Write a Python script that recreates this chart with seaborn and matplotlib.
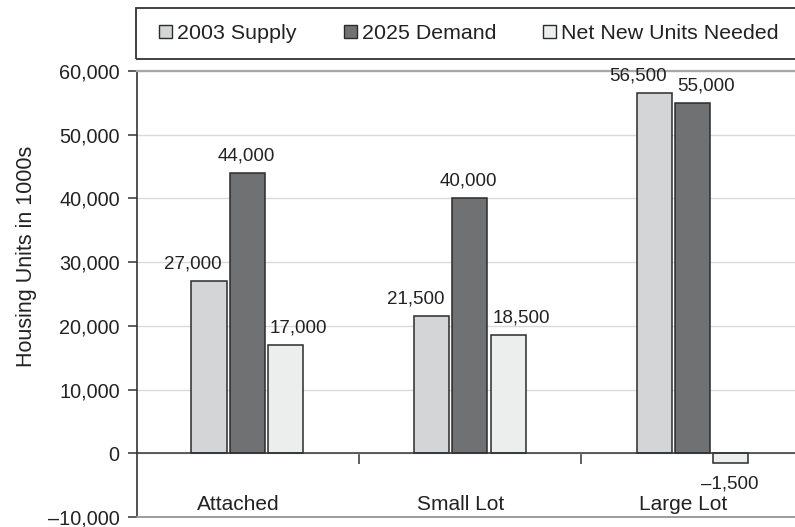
import matplotlib
matplotlib.use("Agg")
import matplotlib.pyplot as plt
from matplotlib.patches import Patch, Rectangle
from matplotlib.ticker import FuncFormatter
import seaborn as sns
import pandas as pd

# Housing units (thousands) by lot type
categories = ["Attached", "Small Lot", "Large Lot"]
series = ["2003 Supply", "2025 Demand", "Net New Units Needed"]
supply_2003 = [27000, 21500, 56500]
demand_2025 = [44000, 40000, 55000]
net_new = [17000, 18500, -1500]

colors = ["#d4d5d7", "#707173", "#eceeed"]
edge = "#2b2b2b"

rows = []
for s, vals in zip(series, [supply_2003, demand_2025, net_new]):
    for c, v in zip(categories, vals):
        rows.append({"category": c, "series": s, "units": v})
df = pd.DataFrame(rows)

sns.set_theme(style="white")
plt.rcParams["font.family"] = ["Liberation Sans", "DejaVu Sans"]
plt.rcParams["text.color"] = "#222222"

fig = plt.figure(figsize=(7.95, 5.27), dpi=100)
ax = fig.add_axes([137 / 795, 10 / 527, 1 - 137 / 795, 446 / 527])

sns.barplot(data=df, x="category", y="units", hue="series", order=categories,
            hue_order=series, palette=colors, saturation=1, width=0.515,
            gap=0.08, edgecolor=edge, linewidth=1.1, legend=False, ax=ax)

ax.set_ylim(-10000, 60000)
ax.set_xlim(-0.495, 2.46)
ax.set_yticks(range(-10000, 60001, 10000))


def fmt(v, _pos=None):
    s = f"{abs(int(v)):,}"
    return ("\u2013" + s) if v < 0 else s


ax.yaxis.set_major_formatter(FuncFormatter(fmt))
ax.tick_params(axis="y", labelsize=14.3, length=6.5, width=1.1,
               color="#333333", pad=6, left=True, labelcolor="#222222")

# zero baseline carries the category divider ticks
ax.spines["bottom"].set_position(("data", 0))
ax.spines["bottom"].set_color("#333333")
ax.spines["bottom"].set_linewidth(1.1)
ax.set_xticks([0.5, 1.5])
ax.set_xticklabels(["", ""])
ax.tick_params(axis="x", direction="out", length=8, width=1.1, color="#333333",
               bottom=True)
ax.set_xlabel("")

ax.spines["left"].set_color("#333333")
ax.spines["left"].set_linewidth(1.2)
ax.spines["right"].set_visible(False)
ax.spines["top"].set_color("#a8a8a8")
ax.spines["top"].set_linewidth(1.6)

ax.yaxis.grid(True, color="#dadada", linewidth=1)
ax.set_axisbelow(True)
ax.axhline(-10000, color="#9c9c9c", linewidth=1.4, clip_on=False, zorder=3)

ax.set_ylabel("Housing Units in 1000s", fontsize=15.5, color="#222222")
ax.yaxis.set_label_coords(-0.152, 0.585)

# category names sit just above the lower frame line
for i, c in enumerate(categories):
    ax.annotate(c, xy=(i, 0.0156), xycoords=("data", "axes fraction"),
                xytext=(-6.5, 0), textcoords="offset points",
                ha="center", va="baseline", fontsize=15)

# value labels from bar geometry; a label either centres on its bar or
# hugs the bar's outer edge so neighbouring labels don't collide
label_align = {
    0: ["right", "right", "right"],
    1: ["center", "center", "left"],
    2: ["left", "left", "center"],
}
for k, cont in enumerate(ax.containers):
    for j, bar in enumerate(cont):
        h = bar.get_height()
        x0 = bar.get_x()
        w = bar.get_width()
        label = fmt(h)
        align = label_align[k][j]
        if h < 0:
            ax.annotate(label, xy=(x0 + w / 2, h), xytext=(-1, -9),
                        textcoords="offset points", ha="center", va="top",
                        fontsize=13.5)
            continue
        if align == "right":
            xy, dx = (x0 + w, h), -3.5
        elif align == "left":
            xy, dx = (x0, h), 1.5
        else:
            xy, dx = (x0 + w / 2, h), -1
        ax.annotate(label, xy=xy, xytext=(dx, 9), textcoords="offset points",
                    ha=align, va="baseline", fontsize=13.5)

# legend box across the top
fig.patches.append(Rectangle((136 / 795, 1 - 59 / 527), 1.0, 51 / 527,
                             transform=fig.transFigure, fill=False,
                             edgecolor="#333333", linewidth=1.3))
handles = [Patch(facecolor=c, edgecolor=edge, linewidth=1.0) for c in colors]
fs = 15.4
px = fs * 100 / 72
fig.legend(handles, series, loc="center left",
           bbox_to_anchor=(159 / 795, 1 - 34 / 527), ncol=3, frameon=False,
           fontsize=fs, handlelength=13 / px, handleheight=12 / px,
           handletextpad=5 / px, columnspacing=47 / px, borderpad=0,
           borderaxespad=0)

fig.savefig("out.png", dpi=100)
